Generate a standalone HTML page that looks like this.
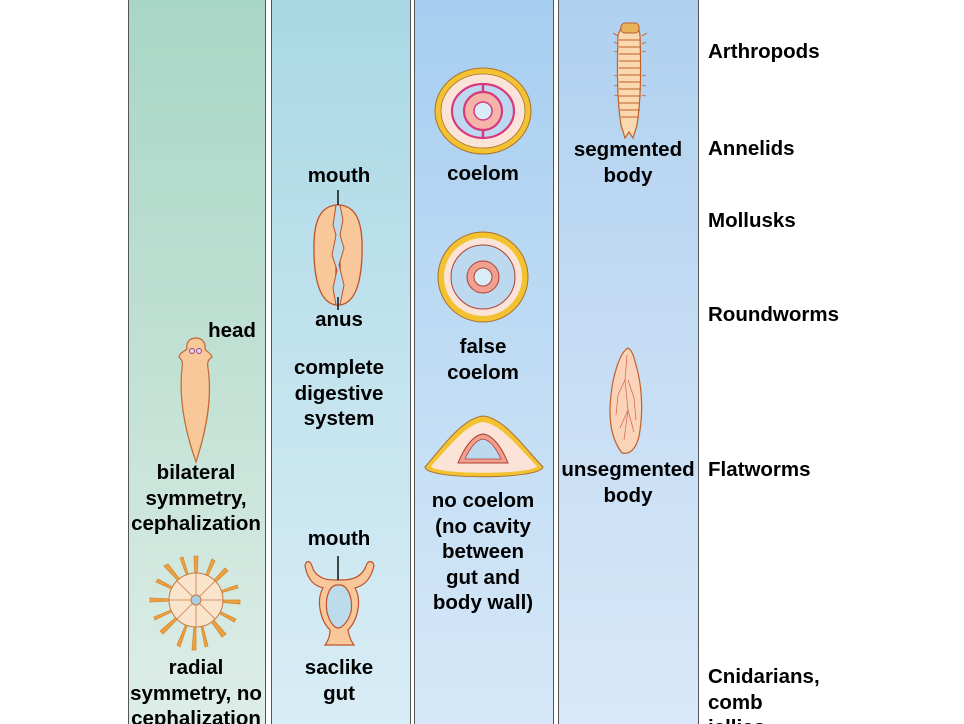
<!DOCTYPE html>
<html><head><meta charset="utf-8"><style>
html,body{margin:0;padding:0;background:#fff;width:964px;height:724px;overflow:hidden;position:relative;font-family:"Liberation Sans",Arial,sans-serif;}
.col{position:absolute;top:-2px;height:730px;border:1px solid #555;box-sizing:border-box;}
.t{position:absolute;font-weight:bold;font-size:20.5px;color:#000;text-align:center;line-height:25.5px;white-space:nowrap;transform:translateX(-50%);}
.r{position:absolute;left:708px;font-weight:bold;font-size:20.5px;color:#000;line-height:25.5px;white-space:nowrap;}
svg{position:absolute;left:0;top:0;}
</style></head><body>
<div class="col" style="left:128px;width:138px;background:linear-gradient(#a8d6c6,#c4e2d6 55%,#deeee8)"></div>
<div class="col" style="left:271px;width:140px;background:linear-gradient(#a8d8e4,#c2e3ee 50%,#d9edf6)"></div>
<div class="col" style="left:414px;width:140px;background:linear-gradient(#a6cef0,#c0dcf4 50%,#d6e8f8)"></div>
<div class="col" style="left:558px;width:141px;background:linear-gradient(#afd0ef,#c6ddf4 50%,#d8e8f8)"></div>

<svg width="964" height="724" viewBox="0 0 964 724">
<!-- flatworm -->
<path d="M196,338 C188,338 186,344 187,349 C183,352 179,354 179,357 C182,360 183,362 182,368 C179,395 183,425 196,462 C208,425 212,395 208,368 C207,362 208,360 212,357 C212,354 207,352 205,349 C206,344 203,338 196,338 Z" fill="#f8c89a" stroke="#c06a30" stroke-width="1.2"/>
<circle cx="192" cy="351" r="2.5" fill="#f3d0e0" stroke="#8b4a8a" stroke-width="1"/>
<circle cx="199" cy="351" r="2.5" fill="#f3d0e0" stroke="#8b4a8a" stroke-width="1"/>
<!-- radial -->
<g stroke="#d08a30" stroke-width="0.8" fill="#f0a040">
<path d="M196,600 L194,556 L198,556Z M196,600 L225,568 L228,571Z M196,600 L240,600 L240,604Z M196,600 L226,634 L222,637Z M196,600 L196,650 L192,650Z M196,600 L163,634 L160,631Z M196,600 L150,602 L150,598Z M196,600 L164,566 L168,564Z M196,600 L212,559 L215,561Z M196,600 L237,585 L238,588Z M196,600 L236,619 L234,622Z M196,600 L208,646 L205,647Z M196,600 L180,647 L177,645Z M196,600 L155,620 L154,617Z M196,600 L156,582 L158,579Z M196,600 L180,558 L183,557Z"/>
</g>
<circle cx="196" cy="600" r="27" fill="#fbe4cc" stroke="#c77a40" stroke-width="1"/>
<g stroke="#c77a40" stroke-width="0.8"><line x1="196" y1="573" x2="196" y2="627"/><line x1="169" y1="600" x2="223" y2="600"/><line x1="177" y1="581" x2="215" y2="619"/><line x1="215" y1="581" x2="177" y2="619"/></g>
<circle cx="196" cy="600" r="5" fill="#a9cfe8" stroke="#c77a40"/>
<!-- complete gut -->
<path d="M336,205 C318,207 313,225 314,255 C315,285 322,303 336,305 Z" fill="#f8c89a" stroke="#c0502a" stroke-width="1.3"/>
<path d="M340,205 C358,207 363,225 362,255 C361,285 354,303 340,305 Z" fill="#f8c89a" stroke="#c0502a" stroke-width="1.3"/>
<path d="M336,205 L333,225 L336,235 L332,255 L337,270 L333,288 L336,305 L340,305 L344,285 L339,265 L344,248 L340,235 L343,220 L340,205Z" fill="#bcdcec" stroke="#c0502a" stroke-width="1"/>
<line x1="338" y1="190" x2="338" y2="205" stroke="#111" stroke-width="1.5"/>
<line x1="338" y1="297" x2="338" y2="310" stroke="#111" stroke-width="1.5"/>
<!-- saclike -->
<path d="M305,566 C306,560 310,560 312,566 C315,577 325,580 334,580 L342,580 C352,580 362,577 366,566 C368,560 373,560 374,566 C370,582 362,586 355,588 C362,600 358,620 348,630 C349,636 351,641 354,645 L325,645 C328,641 330,636 330,630 C320,620 316,600 323,588 C316,586 308,582 305,566Z" fill="#f8c89a" stroke="#c0502a" stroke-width="1.2"/>
<path d="M336,585 C328,587 325,600 327,612 C330,624 335,628 338,628 C342,628 348,622 351,612 C353,600 349,587 341,585Z" fill="#bcdcec" stroke="#c0502a" stroke-width="1.2"/>
<line x1="338" y1="556" x2="338" y2="580" stroke="#111" stroke-width="1.5"/>
<!-- coelom -->
<ellipse cx="483" cy="111" rx="48" ry="43" fill="#f2c230" stroke="#a87030" stroke-width="1"/>
<ellipse cx="483" cy="111" rx="42" ry="37" fill="#fbe3d8" stroke="#a87030" stroke-width="0.8"/>
<ellipse cx="483" cy="111" rx="31" ry="27" fill="#bcd9f0" stroke="#d83880" stroke-width="2.2"/>
<circle cx="483" cy="111" r="19" fill="#f4b4a8" stroke="#d83880" stroke-width="2.2"/>
<circle cx="483" cy="111" r="9" fill="#d9ecf8" stroke="#d83880" stroke-width="1.5"/>
<line x1="483" y1="84" x2="483" y2="92" stroke="#d83880" stroke-width="2.5"/>
<line x1="483" y1="130" x2="483" y2="138" stroke="#d83880" stroke-width="2.5"/>
<!-- false coelom -->
<circle cx="483" cy="277" r="45" fill="#f2c230" stroke="#a87030" stroke-width="1"/>
<circle cx="483" cy="277" r="39" fill="#fbe3d8"/>
<circle cx="483" cy="277" r="32" fill="#bcd9f0" stroke="#b04030" stroke-width="1"/>
<circle cx="483" cy="277" r="16" fill="#f0a090" stroke="#b04030" stroke-width="1"/>
<circle cx="483" cy="277" r="9" fill="#d9ecf8" stroke="#b04030" stroke-width="1"/>
<!-- no coelom -->
<path d="M425,467 C440,450 462,418 483,416 C505,418 526,450 543,467 C540,480 425,480 425,467Z" fill="#f2c230" stroke="#a87030" stroke-width="1"/>
<path d="M431,466 C445,452 465,424 483,422 C502,424 522,452 537,466 C534,475 432,475 431,466Z" fill="#fbe3d8"/>
<path d="M458,463 C464,448 473,435 483,434 C493,435 502,448 508,463Z" fill="#f0a090" stroke="#b04030" stroke-width="1"/>
<path d="M465,459 C470,448 476,440 483,439 C490,440 496,448 501,459Z" fill="#bcd9f0" stroke="#b04030" stroke-width="0.8"/>
<!-- segmented worm -->
<path d="M622,26 C626,22 634,22 638,26 L640,35 C641,70 641,100 637,125 L633,138 L629,132 L625,138 L621,125 C617,100 617,70 618,35Z" fill="#fbd9b0" stroke="#c0602a" stroke-width="1.2"/>
<rect x="621" y="23" width="18" height="10" rx="4" fill="#e9b25a" stroke="#c0602a"/>
<g stroke="#c0602a" stroke-width="0.9">
<line x1="619" y1="40" x2="641" y2="40"/><line x1="619" y1="47" x2="641" y2="47"/><line x1="619" y1="54" x2="641" y2="54"/><line x1="619" y1="61" x2="641" y2="61"/><line x1="619" y1="68" x2="641" y2="68"/><line x1="619" y1="75" x2="641" y2="75"/><line x1="619" y1="82" x2="641" y2="82"/><line x1="619" y1="89" x2="641" y2="89"/><line x1="619" y1="96" x2="641" y2="96"/><line x1="619" y1="103" x2="640" y2="103"/><line x1="620" y1="110" x2="640" y2="110"/><line x1="621" y1="117" x2="639" y2="117"/>
<line x1="618" y1="36" x2="613" y2="33"/><line x1="642" y1="36" x2="647" y2="33"/><line x1="618" y1="44" x2="614" y2="42"/><line x1="642" y1="44" x2="646" y2="42"/><line x1="618" y1="51" x2="614" y2="52"/><line x1="642" y1="51" x2="646" y2="52"/>
<line x1="618" y1="75" x2="614" y2="76"/><line x1="642" y1="75" x2="646" y2="76"/><line x1="618" y1="85" x2="614" y2="86"/><line x1="642" y1="85" x2="646" y2="86"/><line x1="618" y1="95" x2="614" y2="96"/><line x1="642" y1="95" x2="646" y2="96"/>
</g>
<!-- unsegmented -->
<path d="M628,348 C620,352 613,375 611,395 C608,420 612,440 622,453 C630,455 638,448 640,430 C643,410 642,385 636,365 C634,357 632,350 628,348Z" fill="#fbd3b8" stroke="#c0602a" stroke-width="1.2"/>
<g stroke="#d06050" stroke-width="0.7" fill="none"><path d="M627,355 L625,380 L628,410 L624,440"/><path d="M625,380 L618,395 L616,415"/><path d="M628,380 L634,398 L636,420"/><path d="M628,410 L620,428"/><path d="M628,410 L634,432"/></g>
</svg>

<div class="t" style="left:232px;top:318px">head</div>
<div class="t" style="left:196px;top:460px">bilateral<br>symmetry,<br>cephalization</div>
<div class="t" style="left:196px;top:655px">radial<br>symmetry, no<br>cephalization</div>
<div class="t" style="left:339px;top:163px">mouth</div>
<div class="t" style="left:339px;top:307px">anus</div>
<div class="t" style="left:339px;top:355px">complete<br>digestive<br>system</div>
<div class="t" style="left:339px;top:526px">mouth</div>
<div class="t" style="left:339px;top:655px">saclike<br>gut</div>
<div class="t" style="left:483px;top:161px">coelom</div>
<div class="t" style="left:483px;top:334px">false<br>coelom</div>
<div class="t" style="left:483px;top:488px">no coelom<br>(no cavity<br>between<br>gut and<br>body wall)</div>
<div class="t" style="left:628px;top:137px">segmented<br>body</div>
<div class="t" style="left:628px;top:457px">unsegmented<br>body</div>
<div class="r" style="top:39px">Arthropods</div>
<div class="r" style="top:136px">Annelids</div>
<div class="r" style="top:208px">Mollusks</div>
<div class="r" style="top:302px">Roundworms</div>
<div class="r" style="top:457px">Flatworms</div>
<div class="r" style="top:664px">Cnidarians,<br>comb<br>jellies</div>
</body></html>
